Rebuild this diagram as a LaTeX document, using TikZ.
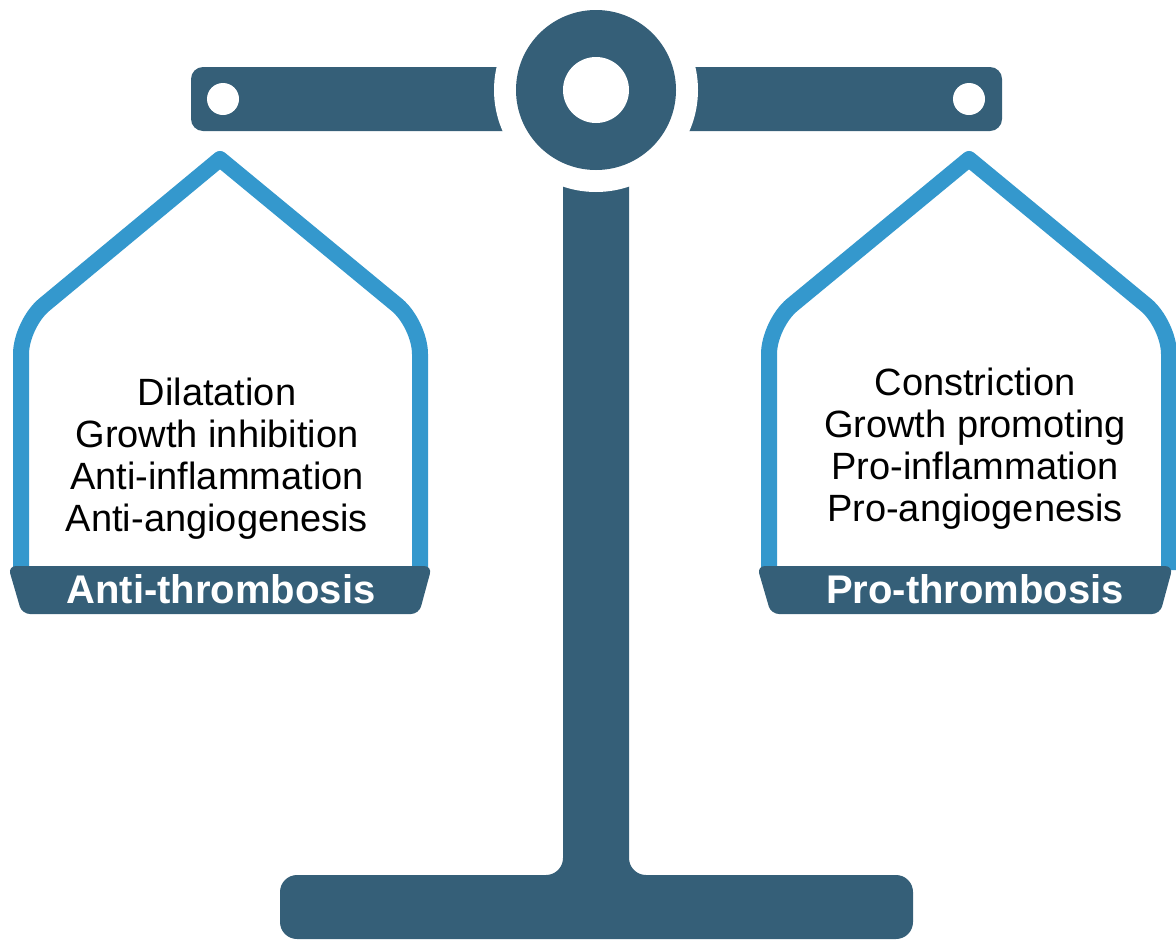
\documentclass[tikz,border=0pt]{standalone}
\usepackage{fontspec}
\setmainfont{Liberation Sans}
\definecolor{ScaleDark}{HTML}{355F78}
\definecolor{ScaleBlue}{HTML}{3498CD}

\begin{document}
\begin{tikzpicture}[x=1pt,y=-1pt]
  \tikzstyle{panline}=[draw=ScaleBlue,line width=16pt,line join=round]
  \tikzstyle{tray}=[fill=ScaleDark,rounded corners=8pt]
  \tikzstyle{listtext}=[align=center,anchor=base,inner sep=0pt,
    font=\fontsize{38}{41.7}\selectfont]
  \tikzstyle{traytext}=[anchor=base,inner sep=0pt,text=white,
    font=\bfseries\fontsize{40}{44}\selectfont]
  \useasboundingbox (0,0) rectangle (1176,940);
  % beam, post and foot
  \fill[ScaleDark,rounded corners=12pt] (191,67) rectangle (1002,131);
  \fill[ScaleDark,rounded corners=17pt] (563,150) -- (563,875) -- (280,875)
    -- (280,939) -- (913,939) -- (913,875) -- (629,875) -- (629,150) -- cycle;
  % pivot, cut free by a white ring
  \fill[white] (596,90) circle (102pt);
  \fill[ScaleDark] (596,90) circle (80pt);
  \fill[white] (596,90) circle (33pt);
  \fill[white] (223,99) circle (16pt);
  \fill[white] (969,99) circle (16pt);
  % pans
  \draw[panline] (21,570) [rounded corners=30pt] -- (21,324) [sharp corners]
    -- (220,159) [rounded corners=30pt] -- (420,324) [sharp corners] -- (420,570);
  \draw[panline] (769,570) [rounded corners=30pt] -- (769,324) [sharp corners]
    -- (969,159) [rounded corners=30pt] -- (1169,324) [sharp corners] -- (1169,570);
  \fill[tray] (8,566) -- (432,566) -- (419,614) -- (22,614) -- cycle;
  \fill[tray] (757,566) -- (1173,566) -- (1160,614) -- (771,614) -- cycle;
  % texts (base sits on the last line)
  \node[listtext] (antilist) at (217,531)
    {Dilatation\\Growth inhibition\\Anti-inflammation\\Anti-angiogenesis};
  \node[listtext] (prolist) at (975,521)
    {Constriction\\Growth promoting\\Pro-inflammation\\Pro-angiogenesis};
  \node[traytext] (antilabel) at (221,603) {Anti-thrombosis};
  \node[traytext] (prolabel) at (975,603) {Pro-thrombosis};
\end{tikzpicture}
\end{document}
